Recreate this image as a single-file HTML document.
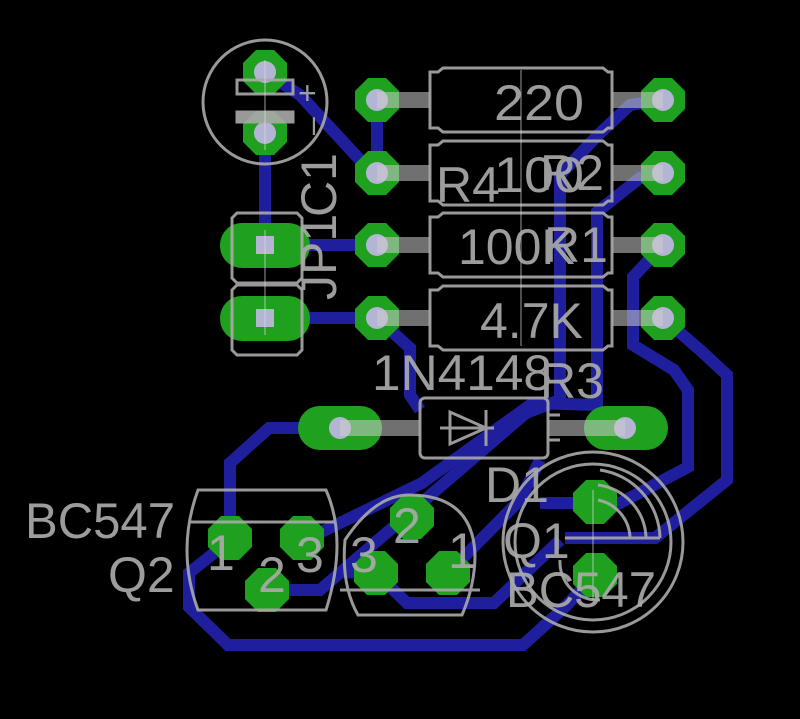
<!DOCTYPE html>
<html><head><style>html,body{margin:0;padding:0;background:#000;overflow:hidden}svg{display:block}</style></head><body>
<svg width="800" height="719" viewBox="0 0 800 719" xmlns="http://www.w3.org/2000/svg">
<defs>
<polygon id="oct" points="-9,-22 9,-22 22,-9 22,9 9,22 -9,22 -22,9 -22,-9"/>
</defs>
<rect width="800" height="719" fill="#000"/>
<g fill="none" stroke="#1f1f9e" stroke-width="12" stroke-linejoin="miter">
<polyline points="265,72 300,95 360,160 377,173"/>
<polyline points="377,100 377,173"/>
<polyline points="265,133 265,245 377,245"/>
<polyline points="265,318 377,318 410,348 410,395 420,410"/>
<polyline points="663,100 630,105 598,135 560,175 560,400 526,413 320,590 267,590"/>
<polyline points="663,173 640,178 597,212 597,405 533,403 422,483 305,540"/>
<polyline points="663,245 633,277 633,345 674,370 688,390 688,467 620,503 540,503"/>
<polyline points="663,318 700,350 727,375 727,480 655,538 565,538"/>
<polyline points="340,428 269,428 230,463 230,537"/>
<polyline points="214,553 189,573 189,607 228,645 523,645 565,607 595,575"/>
<polyline points="340,572 376,573 407,603 494,603 560,540"/>
<polyline points="448,573 520,500 540,460"/>
</g>
<g fill="#1fa01f">
<use href="#oct" x="265" y="72"/><use href="#oct" x="265" y="133"/>
<use href="#oct" x="377" y="100"/><use href="#oct" x="377" y="173"/><use href="#oct" x="377" y="245"/><use href="#oct" x="377" y="318"/>
<use href="#oct" x="663" y="100"/><use href="#oct" x="663" y="173"/><use href="#oct" x="663" y="245"/><use href="#oct" x="663" y="318"/>
<use href="#oct" x="230" y="538"/><use href="#oct" x="302" y="538"/><use href="#oct" x="267" y="590"/>
<use href="#oct" x="412" y="517"/><use href="#oct" x="376" y="573"/><use href="#oct" x="448" y="573"/>
<use href="#oct" x="595" y="502"/><use href="#oct" x="595" y="575"/>
<rect x="220" y="223" width="90" height="45" rx="22"/><rect x="220" y="296" width="90" height="45" rx="22"/>
<rect x="298" y="406" width="84" height="44" rx="22"/><rect x="584" y="406" width="84" height="44" rx="22"/>
</g>
<g fill="#b4b4d4">
<circle cx="265" cy="72" r="11"/><circle cx="265" cy="133" r="11"/>
<circle cx="377" cy="100" r="11"/><circle cx="377" cy="173" r="11"/><circle cx="377" cy="245" r="11"/><circle cx="377" cy="318" r="11"/>
<circle cx="663" cy="100" r="11"/><circle cx="663" cy="173" r="11"/><circle cx="663" cy="245" r="11"/><circle cx="663" cy="318" r="11"/>
<rect x="256" y="236" width="18" height="18"/><rect x="256" y="309" width="18" height="18"/>
<circle cx="340" cy="428" r="11"/><circle cx="625" cy="428" r="11"/>
</g>
<g fill="#ccc" opacity="0.55">
<rect x="377" y="92" width="53" height="16"/><rect x="612" y="92" width="51" height="16"/>
<rect x="377" y="165" width="53" height="16"/><rect x="612" y="165" width="51" height="16"/>
<rect x="377" y="237" width="53" height="16"/><rect x="612" y="237" width="51" height="16"/>
<rect x="377" y="310" width="53" height="16"/><rect x="612" y="310" width="51" height="16"/>
<rect x="340" y="420" width="80" height="16"/><rect x="548" y="420" width="77" height="16"/>
</g>
<g fill="none" stroke="#aaa" stroke-width="3" opacity="0.9">
<circle cx="265" cy="102" r="62"/>
<rect x="237" y="80" width="56" height="14"/><rect x="237" y="112" width="56" height="10" fill="#aaa"/>
<path d="M430,72h8l5,-4h160l5,4h4v56h-4l-5,4h-160l-5,-4h-8z"/>
<path d="M430,145h8l5,-4h160l5,4h4v56h-4l-5,4h-160l-5,-4h-8z"/>
<path d="M430,217h8l5,-4h160l5,4h4v56h-4l-5,4h-160l-5,-4h-8z"/>
<path d="M430,290h8l5,-4h160l5,4h4v56h-4l-5,4h-160l-5,-4h-8z"/>
<path d="M232,218l5,-5h60l5,5v60l-5,5h-60l-5,-5z M232,290l5,-5h60l5,5v60l-5,5h-60l-5,-5z"/>
<rect x="420" y="398" width="128" height="60" rx="5"/>
<path d="M450,412v32l36,-16z M486,410v36 M440,428h54 M548,402v52 M548,415h12 M548,440h12"/>
<path d="M198,490h128q22,50 0,120h-128q-22,-60 0,-120z M190,522h145"/>
<path d="M345,540q30,-45 64,-45q64,0 66,60q0,30 -13,60h-104q-17,-30 -13,-75z M340,590h140"/>
<circle cx="593" cy="542" r="90"/><circle cx="593" cy="542" r="78"/>
<path d="M600,470a70,70 0 0 1 60,68 M598,485a55,55 0 0 1 48,52 M598,500a40,40 0 0 1 32,37 M565,538h95 M560,560a38,38 0 0 0 40,40"/>
</g>
<g stroke="#ddd" stroke-width="1" opacity="0.7">
<line x1="265" y1="60" x2="265" y2="150"/><line x1="265" y1="230" x2="265" y2="335"/>
<line x1="521" y1="70" x2="521" y2="346"/><line x1="593" y1="490" x2="593" y2="600"/>
</g>
<g fill="#aaa" font-family="Liberation Sans, sans-serif" font-size="50" opacity="0.92">
<text x="494" y="120" textLength="90" lengthAdjust="spacingAndGlyphs">220</text>
<text x="494" y="192" textLength="90" lengthAdjust="spacingAndGlyphs">100</text>
<text x="458" y="264">100K</text>
<text x="480" y="338">4.7K</text>
<text x="436" y="202">R4</text>
<text x="540" y="190">R2</text>
<text x="544" y="262">R1</text>
<text x="372" y="390" textLength="180" lengthAdjust="spacingAndGlyphs">1N4148</text>
<text x="540" y="398">R3</text>
<text x="485" y="502">D1</text>
<text x="25" y="538" textLength="150" lengthAdjust="spacingAndGlyphs">BC547</text>
<text x="108" y="592">Q2</text>
<text x="503" y="558">Q1</text>
<text x="506" y="607" textLength="150" lengthAdjust="spacingAndGlyphs">BC547</text>
<text x="207" y="570">1</text><text x="296" y="572">3</text><text x="258" y="592">2</text>
<text x="393" y="543">2</text><text x="350" y="572">3</text><text x="448" y="568">1</text>
<text transform="translate(336,300) rotate(-90)">JP1</text>
<text transform="translate(336,217) rotate(-90)">C1</text>
<text x="298" y="104" font-size="32">+</text>
<text transform="translate(322,135) rotate(-90)" font-size="32">–</text>
</g>
</svg>
</body></html>
